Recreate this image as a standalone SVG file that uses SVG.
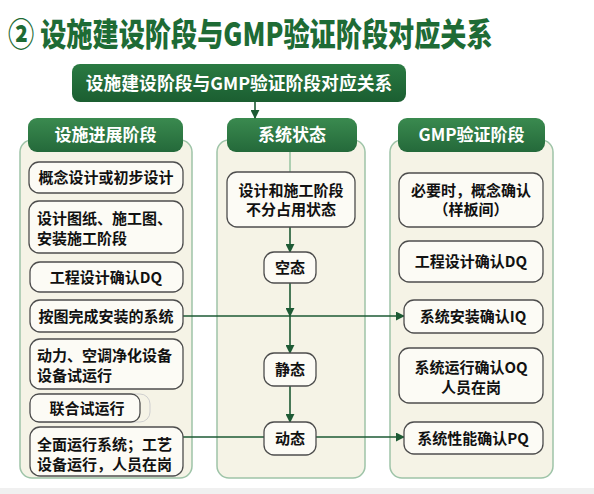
<svg xmlns="http://www.w3.org/2000/svg" width="594" height="494" viewBox="0 0 594 494">
<defs>
<linearGradient id="hg" x1="0" y1="0" x2="0" y2="1">
<stop offset="0" stop-color="#3a8a4f"/><stop offset="1" stop-color="#24693a"/>
</linearGradient>
<linearGradient id="bg" x1="0" y1="0" x2="0" y2="1">
<stop offset="0" stop-color="#2a7a42"/><stop offset="1" stop-color="#1b5e31"/>
</linearGradient>
<marker id="ah" viewBox="0 0 10 10" refX="9" refY="5" markerWidth="9" markerHeight="9" markerUnits="userSpaceOnUse" orient="auto">
<path d="M0,0 L10,5 L0,10 z" fill="#1d5a34"/>
</marker>
</defs>
<style>
text{font-family:"Noto Sans CJK SC","Noto Sans",sans-serif;font-weight:bold}
.panel{fill:#f5f3e6;stroke:#9ec4a8;stroke-width:1.5}
.hdr{fill:url(#hg)}
.ht{fill:#ffffff;font-size:17px;text-anchor:middle}
.box{fill:#fcfbf5;stroke:#4d4d4d;stroke-width:1.3}
.bt{fill:#111111;font-size:15px}
.c{text-anchor:middle}
.ln{stroke:#1d5a34;stroke-width:1.6;fill:none}
.lt{stroke:#8fbf9a;stroke-width:1.4;fill:none}
</style>
<rect x="0" y="0" width="594" height="494" fill="#ffffff"/>
<rect x="0" y="488" width="594" height="6" fill="#f0f0f0"/>
<text transform="translate(8,45.5) scale(0.818,1)" x="0" y="0" font-size="32" fill="#1e6b35" style="font-weight:900">② 设施建设阶段与GMP验证阶段对应关系</text>

<g id="banner">
<rect x="72" y="64" width="334" height="38" rx="8" fill="url(#bg)"/>
<text x="239" y="89.5" class="ht" style="font-size:17.8px">设施建设阶段与GMP验证阶段对应关系</text>
</g>

<g id="col-left">
<rect class="panel" x="20" y="140" width="172" height="338" rx="12"/>
<rect class="hdr" x="28" y="118" width="155" height="34" rx="9"/>
<text class="ht" x="105.5" y="141">设施进展阶段</text>
</g>
<g id="col-mid">
<rect class="panel" x="217" y="140" width="148" height="338" rx="12"/>
<rect class="hdr" x="227" y="118" width="130" height="34" rx="9"/>
<text class="ht" x="292" y="141">系统状态</text>
</g>
<g id="col-right">
<rect class="panel" x="390" y="140" width="163" height="338" rx="12"/>
<rect class="hdr" x="398" y="118" width="147" height="34" rx="9"/>
<text class="ht" x="471.5" y="141">GMP验证阶段</text>
</g>

<g id="connectors">
<line class="ln" x1="255" y1="102" x2="255" y2="118" marker-end="url(#ah)"/>
<line class="lt" x1="290" y1="152" x2="290" y2="172"/>
<line class="ln" x1="290" y1="227" x2="290" y2="252" marker-end="url(#ah)"/>
<line class="ln" x1="290" y1="283" x2="290" y2="316" marker-end="url(#ah)"/>
<line class="ln" x1="290" y1="316" x2="290" y2="353" marker-end="url(#ah)"/>
<line class="ln" x1="290" y1="386" x2="290" y2="422" marker-end="url(#ah)"/>
<line class="ln" x1="183" y1="316" x2="404" y2="316" marker-end="url(#ah)"/>
<line class="ln" x1="183" y1="437" x2="404" y2="437" marker-end="url(#ah)"/>
</g>

<g id="l1"><rect class="box" x="29" y="162" width="154" height="31" rx="10"/><text class="bt c" x="106" y="183">概念设计或初步设计</text></g>
<g id="l2"><rect class="box" x="29" y="201" width="154" height="52" rx="10"/><text class="bt" x="37" y="223.5">设计图纸、施工图、</text><text class="bt" x="37" y="243.5">安装施工阶段</text></g>
<g id="l3"><rect class="box" x="30" y="262" width="153" height="30" rx="10"/><text class="bt c" x="106" y="282.5">工程设计确认DQ</text></g>
<g id="l4"><rect class="box" x="30" y="300" width="153" height="32" rx="10"/><text class="bt c" x="106" y="321.5">按图完成安装的系统</text></g>
<g id="l5"><rect class="box" x="30" y="339" width="153" height="50" rx="10"/><text class="bt" x="37" y="360.5">动力、空调净化设备</text><text class="bt" x="37" y="380.5">设备试运行</text></g>
<g id="l6"><rect x="30" y="394" width="120" height="28" rx="10" fill="none" stroke="#cfcfcf" stroke-width="1"/><rect class="box" x="30" y="394" width="110" height="28" rx="9"/><text class="bt c" x="87" y="413.5">联合试运行</text></g>
<g id="l7"><rect class="box" x="30" y="427" width="153" height="49" rx="10"/><text class="bt" x="37" y="449.5">全面运行系统；工艺</text><text class="bt" x="37" y="469.5">设备运行，人员在岗</text></g>

<g id="m1"><rect class="box" x="227" y="172" width="128" height="55" rx="10"/><text class="bt c" x="291" y="195.5">设计和施工阶段</text><text class="bt c" x="291" y="214.5">不分占用状态</text></g>
<g id="m2"><rect class="box" x="264" y="252" width="52" height="31" rx="10"/><text class="bt c" x="290" y="273">空态</text></g>
<g id="m3"><rect class="box" x="264" y="353" width="52" height="33" rx="10"/><text class="bt c" x="290" y="375">静态</text></g>
<g id="m4"><rect class="box" x="264" y="422" width="52" height="33" rx="10"/><text class="bt c" x="290" y="444">动态</text></g>

<g id="r1"><rect class="box" x="399" y="173" width="144" height="54" rx="10"/><text class="bt c" x="471" y="195.5">必要时，概念确认</text><text class="bt c" x="471" y="214.5">（样板间）</text></g>
<g id="r2"><rect class="box" x="399" y="241" width="144" height="41" rx="10"/><text class="bt c" x="471" y="267">工程设计确认DQ</text></g>
<g id="r3"><rect class="box" x="404" y="300" width="139" height="33" rx="10"/><text class="bt c" x="473" y="322">系统安装确认IQ</text></g>
<g id="r4"><rect class="box" x="399" y="348" width="144" height="55" rx="10"/><text class="bt c" x="471" y="372.5">系统运行确认OQ</text><text class="bt c" x="471" y="392.5">人员在岗</text></g>
<g id="r5"><rect class="box" x="404" y="422" width="139" height="32" rx="10"/><text class="bt c" x="473" y="443.5">系统性能确认PQ</text></g>
</svg>
